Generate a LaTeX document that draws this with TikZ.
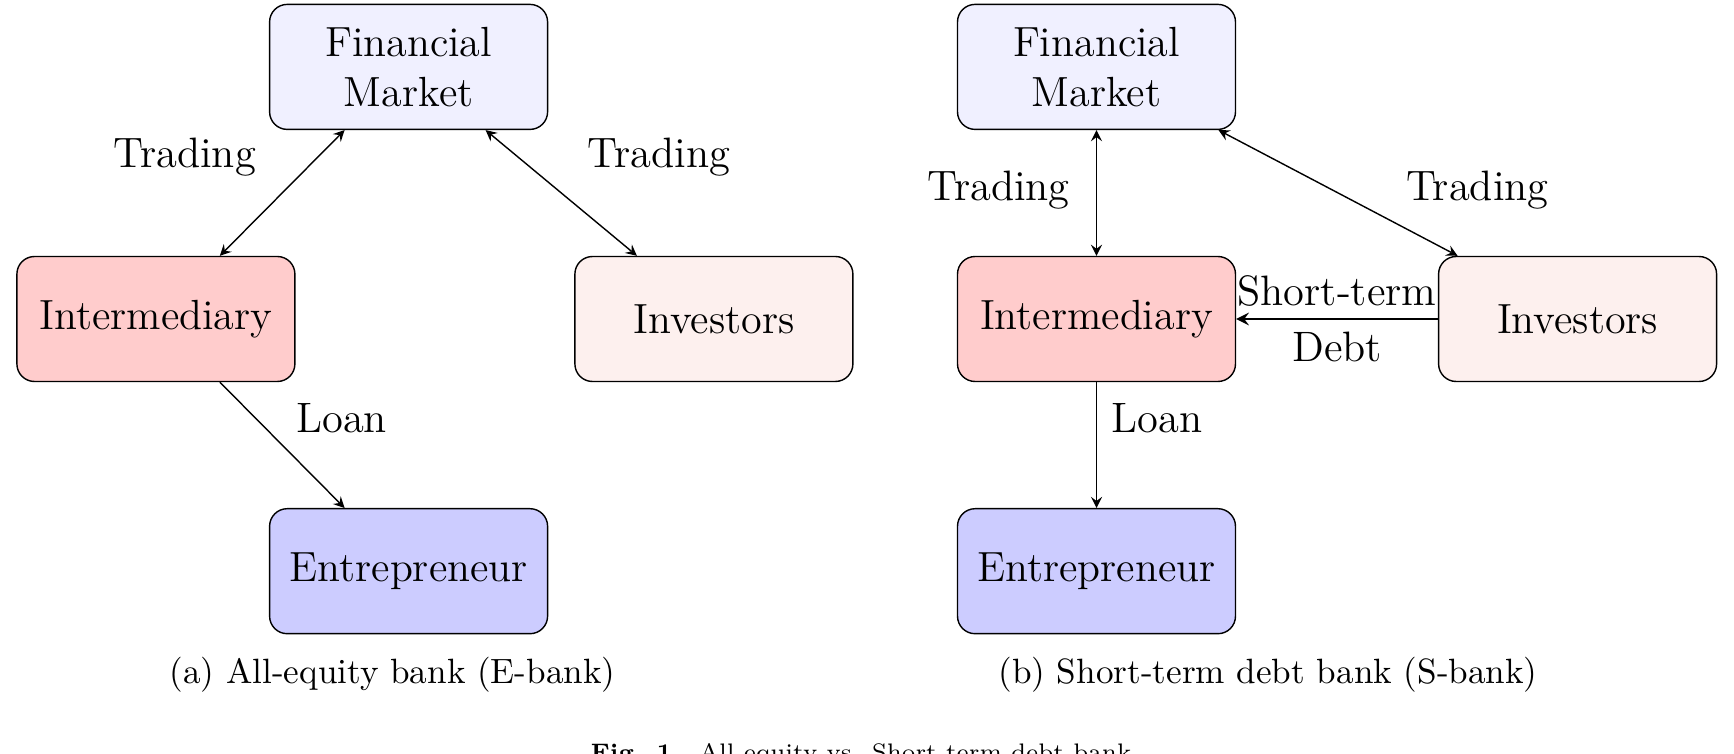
\documentclass[tikz,border=0pt]{standalone}
\usepackage{xcolor}
\usepackage{tikz}
\usetikzlibrary{positioning, calc, arrows}
\definecolor{mkt}{HTML}{F0F0FF}
\definecolor{inter}{HTML}{FFCCCC}
\definecolor{invc}{HTML}{FDF0EE}
\definecolor{entr}{HTML}{CCCCFF}

\begin{document}
\begin{tikzpicture}[
  agent/.style={draw, rounded corners=5pt, fill=#1, minimum width=2.78cm,
                minimum height=1.25cm, align=center, font=\fontsize{12}{14.2}\selectfont},
  flow/.style={font=\fontsize{12.1}{14.2}\selectfont},
  link/.style={>=stealth, thin},
  sub/.style={font=\fontsize{10}{12}\selectfont}
]
  \useasboundingbox (0,0) rectangle (17.34,7.53);

  % (a) all-equity bank
  \node[agent=mkt] (fmA) at (4.086,6.861) {Financial\\Market};
  \node[agent=inter] (intA) at (1.559,4.34) {Intermediary};
  \node[agent=invc] (invA) at (7.139,4.34) {Investors};
  \node[agent=entr] (entA) at (4.086,1.818) {Entrepreneur};

  \draw[link, <->] ([xshift=-0.64cm]fmA.south) -- ([xshift=0.64cm]intA.north);
  \draw[link, <->] ([xshift=0.77cm]fmA.south) -- ([xshift=-0.77cm]invA.north);
  \draw[link, ->] ([xshift=0.64cm]intA.south) -- ([xshift=-0.64cm]entA.north);

  \node[flow] (trA1) at (1.847,5.96) {Trading};
  \node[flow] (trA2) at (6.591,5.96) {Trading};
  \node[flow] (loanA) at (3.417,3.35) {Loan};
  \node[sub] (capA) at (3.926,0.784) {(a) All-equity bank (E-bank)};

  % (b) short-term debt bank
  \node[agent=mkt] (fmB) at (10.965,6.861) {Financial\\Market};
  \node[agent=inter] (intB) at (10.965,4.34) {Intermediary};
  \node[agent=invc] (invB) at (15.776,4.34) {Investors};
  \node[agent=entr] (entB) at (10.965,1.818) {Entrepreneur};

  \draw[link, <->] (fmB) -- (intB);
  \draw[link, <->] ([xshift=1.22cm]fmB.south) -- ([xshift=-1.2cm]invB.north);
  \draw[link, ->, semithick] (invB) -- node[flow, above] {Short-term}
    node[flow, below] {Debt} (intB);
  \draw[link, ->] (intB) -- (entB);

  \node[flow] (trB1) at (9.986,5.628) {Trading};
  \node[flow] (trB2) at (14.775,5.628) {Trading};
  \node[flow] (loanB) at (11.568,3.35) {Loan};
  \node[sub] (capB) at (12.68,0.784) {(b) Short-term debt bank (S-bank)};

  \node[font=\fontsize{6.8}{8}\selectfont, anchor=north, inner sep=0pt] (fig)
    at (8.61,0.1) {\textbf{Fig. 1.}\ \ All-equity vs. Short-term debt bank};
\end{tikzpicture}
\end{document}
